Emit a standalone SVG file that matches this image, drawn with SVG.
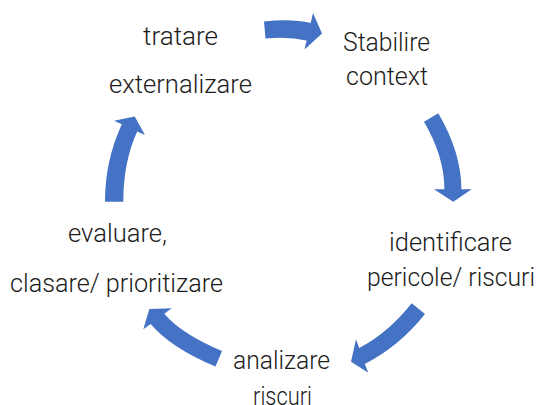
<svg xmlns="http://www.w3.org/2000/svg" width="538" height="405" viewBox="0 0 538 405">
  <style>
    .lbl { font-family: Roboto, "Open Sans", "Liberation Sans", sans-serif; font-size: 26px; font-weight: 300; fill: #1c1c1c; }
    .arrow { fill: #4472C4; stroke: none; }
  </style>
  <rect width="538" height="405" fill="#ffffff"/>

  <!-- cycle arrows -->
  <g id="connectors">
    <path class="arrow" d="M264,21.5 Q291.4,18.5 310.7,23 L313,13 L322,33.5 L304.5,49.5 L306.6,40.5 Q287.7,36.1 265.5,38.5 Z"/>
    <path class="arrow" d="M438.3,113.3 Q461.4,152.8 461.4,189.3 L471.7,189.3 L453.3,201.7 L434,189.3 L444.4,189.3 Q444.4,156.6 424,121.7 Z"/>
    <path class="arrow" d="M425,314 Q399.6,346 364.8,364 L368.3,372.7 L351,361.7 L356,339.3 L359.2,348 Q388,333.1 411.7,303.3 Z"/>
    <path class="arrow" d="M215.5,366.5 Q170.3,347.4 150.7,323.9 L143.3,329.3 L149.3,309 L171.7,308.3 L164.3,313.7 Q181,333.6 222,351 Z"/>
    <path class="arrow" d="M105,201.7 Q105,160.6 121.8,124.2 L114,120.7 L134.7,116.5 L145,135 L137.2,131.4 Q123.3,161.5 123.3,201.7 Z"/>
  </g>

  <g id="node-stabilire">
    <text class="lbl" x="343" y="51" textLength="87" lengthAdjust="spacingAndGlyphs">Stabilire</text>
    <text class="lbl" x="346" y="85" textLength="82" lengthAdjust="spacingAndGlyphs">context</text>
  </g>
  <g id="node-identificare">
    <text class="lbl" x="389" y="251" textLength="123" lengthAdjust="spacingAndGlyphs">identificare</text>
    <text class="lbl" x="367" y="286" textLength="168" lengthAdjust="spacingAndGlyphs">pericole/ riscuri</text>
  </g>
  <g id="node-analizare">
    <text class="lbl" x="233" y="369" textLength="97" lengthAdjust="spacingAndGlyphs">analizare</text>
    <text class="lbl" x="253" y="405" textLength="59" lengthAdjust="spacingAndGlyphs">riscuri</text>
  </g>
  <g id="node-evaluare">
    <text class="lbl" x="68" y="242" textLength="99" lengthAdjust="spacingAndGlyphs">evaluare,</text>
    <text class="lbl" x="10" y="292" textLength="213" lengthAdjust="spacingAndGlyphs">clasare/ prioritizare</text>
  </g>
  <g id="node-tratare">
    <text class="lbl" x="143" y="45" textLength="75" lengthAdjust="spacingAndGlyphs">tratare</text>
    <text class="lbl" x="109" y="93" textLength="143" lengthAdjust="spacingAndGlyphs">externalizare</text>
  </g>
</svg>
